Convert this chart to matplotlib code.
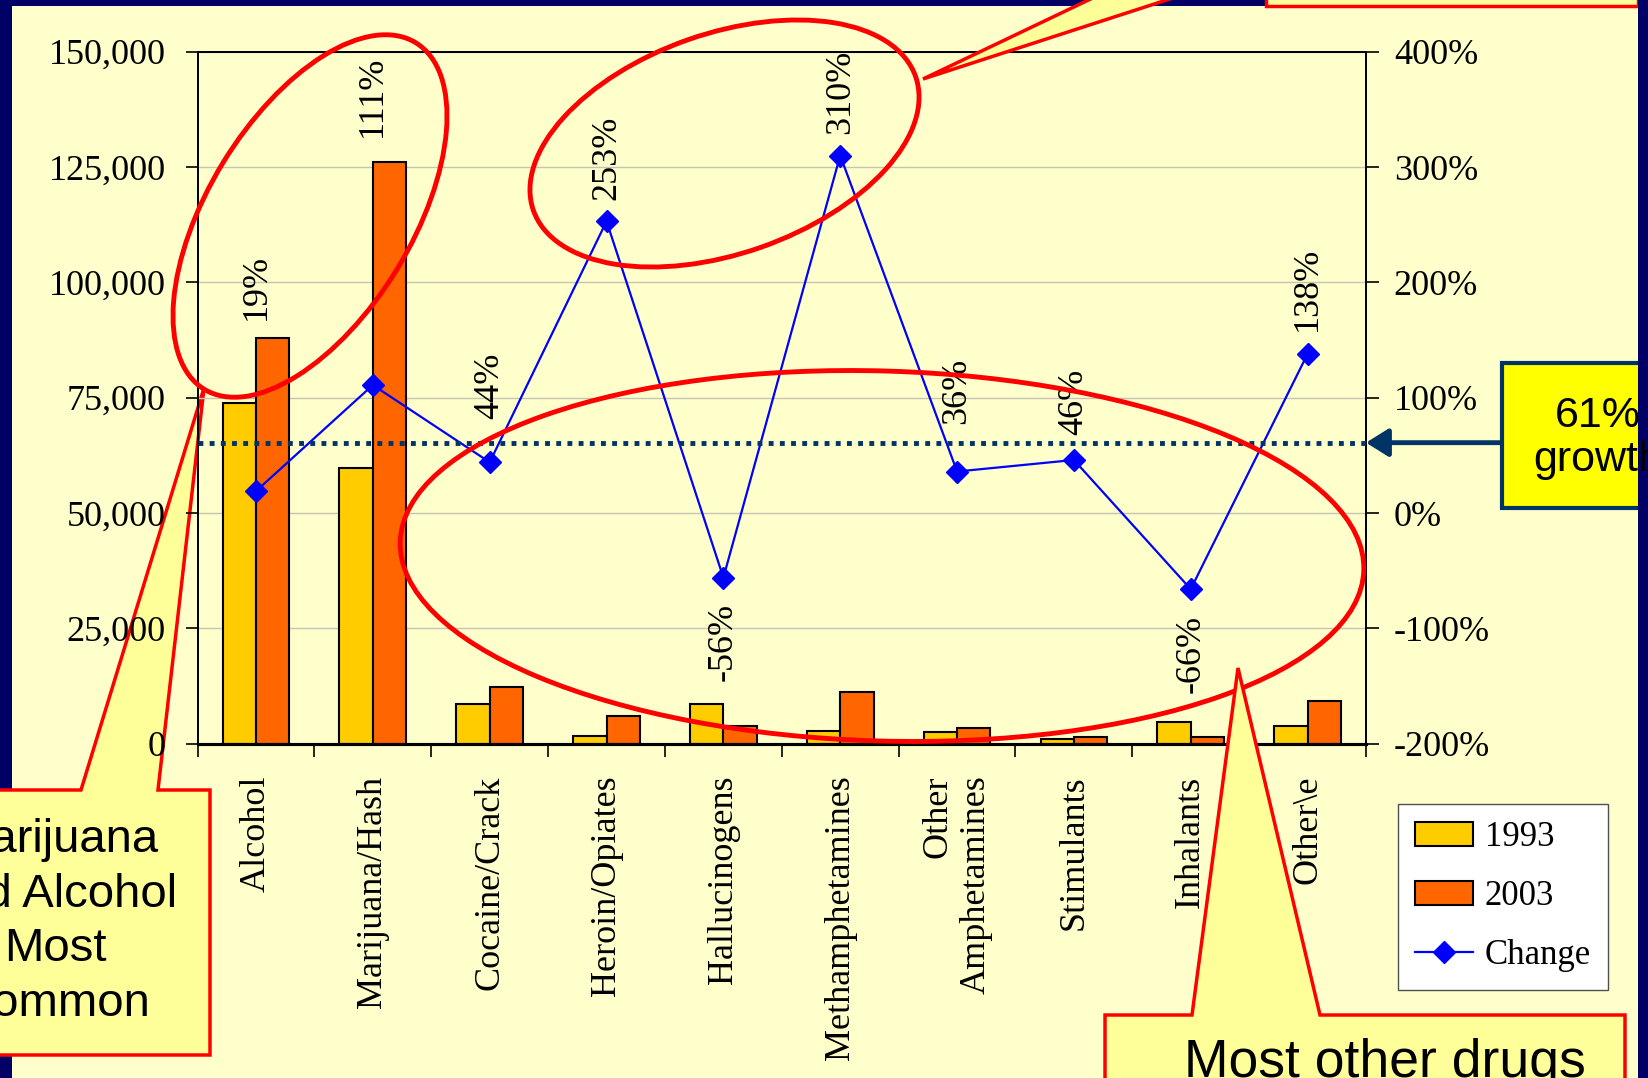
import matplotlib
matplotlib.use("Agg")
import matplotlib.pyplot as plt
import matplotlib.transforms as mtransforms
from matplotlib.patches import Ellipse, Polygon, Rectangle, Patch
from matplotlib.lines import Line2D
from matplotlib.ticker import FuncFormatter
import numpy as np

# ---- data -----------------------------------------------------------------
categories = ["Alcohol", "Marijuana/Hash", "Cocaine/Crack", "Heroin/Opiates",
              "Hallucinogens", "Methamphetamines", "Other\nAmphetamines",
              "Stimulants", "Inhalants", "Other\\e"]
admissions_1993 = [73800, 59800, 8500, 1700, 8600, 2750, 2600, 950, 4600, 3900]
admissions_2003 = [88000, 126000, 12300, 6000, 3800, 11300, 3500, 1400, 1550, 9300]
change_pct = [19, 111, 44, 253, -56, 310, 36, 46, -66, 138]
overall_growth_pct = 61

count_ticks = [0, 25000, 50000, 75000, 100000, 125000, 150000]
pct_ticks = [-200, -100, 0, 100, 200, 300, 400]

# vertical offset (points, up positive) of each change label from its marker
change_label_offsets = [147, 208, 55, 46, -46, 46, 58, 42, -47, 47]

# ---- style ----------------------------------------------------------------
W, H = 1648, 1078
SERIF = "Liberation Serif"
SANS = "Liberation Sans"
BG = "#FFFFCC"
NAVY = "#000066"
DARK_BLUE = "#003366"
C1993 = "#FFCC00"
C2003 = "#FF6600"
LINE_C = "#0000FF"
CALLOUT = "#FFFF99"
RED = "#FF0000"

plt.rcParams["font.family"] = [SERIF, "DejaVu Serif"]

fig = plt.figure(figsize=(W / 100, H / 100), dpi=100, facecolor=BG)

# background layer: slide frame and left callout (sits under the chart)
bg = fig.add_axes([0, 0, 1, 1], zorder=0)
bg.set_xlim(0, W)
bg.set_ylim(H, 0)
bg.axis("off")
bg.add_patch(Rectangle((0, 0), 12, H, color=NAVY, lw=0))
bg.add_patch(Rectangle((0, 0), W, 6, color=NAVY, lw=0))
bg.add_patch(Polygon([(-30, 790), (81, 790), (204, 388), (158, 790), (210, 790),
                      (210, 1055), (-30, 1055)], closed=True, fc=CALLOUT, ec=RED,
                     lw=2.5, joinstyle="miter"))
bg.text(55, 922, "Marijuana\nand Alcohol\nMost\nCommon", ha="center", va="center",
        fontsize=34, family=SANS, linespacing=1.32, multialignment="center")

# ---- main chart -------------------------------------------------------------
left, right, top, bottom = 197.6, 1366, 51.7, 743.7
ax = fig.add_axes([left / W, 1 - bottom / H, (right - left) / W, (bottom - top) / H],
                  zorder=1)
ax.set_facecolor("none")

x = np.arange(len(categories))
bw = 0.2857
ax.bar(x - bw / 2, admissions_1993, bw, color=C1993, edgecolor="black", lw=1.5, zorder=2)
ax.bar(x + bw / 2, admissions_2003, bw, color=C2003, edgecolor="black", lw=1.5, zorder=2)

ax.set_xlim(-0.5, len(categories) - 0.5)
ax.set_ylim(0, 150000)
ax.set_yticks(count_ticks)
ax.yaxis.set_major_formatter(FuncFormatter(lambda v, p: f"{int(v):,}"))
ax.yaxis.grid(True, color="#C4C4B4", lw=1)
ax.set_axisbelow(True)
ax.tick_params(axis="y", length=9, width=1.2, pad=14, labelsize=26, direction="out")

ax.set_xticks(x)
ax.set_xticklabels(categories, rotation=90, fontsize=26, va="top", ha="center",
                   multialignment="right")
ax.set_xticks(np.arange(-0.5, len(categories), 1), minor=True)
ax.tick_params(axis="x", which="major", length=0, pad=23)
ax.tick_params(axis="x", which="minor", length=9, width=1.2, direction="out")

ax2 = ax.twinx()
ax2.set_ylim(-200, 400)
ax2.set_yticks(pct_ticks)
ax2.yaxis.set_major_formatter(FuncFormatter(lambda v, p: f"{int(v)}%"))
ax2.tick_params(axis="y", length=9, width=1.2, pad=11, labelsize=26, direction="out")

for a in (ax, ax2):
    for s in a.spines.values():
        s.set_linewidth(1.3)
        s.set_color("black")
    a.spines["bottom"].set_linewidth(2.2)

ax2.plot(x, change_pct, color=LINE_C, lw=1.6, marker="D", ms=11, mec=LINE_C, zorder=3)
for xi, v, off in zip(x, change_pct, change_label_offsets):
    ax2.annotate(f"{v}%", xy=(xi, v), xytext=(0, off), textcoords="offset points",
                 rotation=90, ha="center", va="center", fontsize=26)

ax2.axhline(overall_growth_pct, color=DARK_BLUE, lw=3.5, linestyle=(0, (1.0, 1.3)),
            dash_capstyle="butt", zorder=4)

fig_x_data_y = mtransforms.blended_transform_factory(fig.transFigure, ax2.transData)
ax2.annotate("", xy=(len(categories) - 0.5, overall_growth_pct),
             xytext=(1502 / W, overall_growth_pct), textcoords=fig_x_data_y,
             annotation_clip=False,
             arrowprops=dict(arrowstyle="-|>,head_length=0.8,head_width=0.5",
                             mutation_scale=17, lw=3.5, color=DARK_BLUE,
                             shrinkA=0, shrinkB=0))

handles = [Patch(fc=C1993, ec="black", lw=1.5), Patch(fc=C2003, ec="black", lw=1.5),
           Line2D([], [], color=LINE_C, lw=1.6, marker="D", ms=11)]
leg = ax2.legend(handles, ["1993", "2003", "Change"], loc="upper left",
                 bbox_to_anchor=(1398 / W, 1 - 804 / H), bbox_transform=fig.transFigure,
                 prop={"family": SERIF, "size": 25}, frameon=True, fancybox=False,
                 edgecolor="#505050", facecolor="white", framealpha=1,
                 handlelength=1.65, handleheight=0.7, labelspacing=0.75,
                 borderpad=0.5, handletextpad=0.35, borderaxespad=0)
leg.get_frame().set_linewidth(1)

# ---- foreground annotations -----------------------------------------------
fg = fig.add_axes([0, 0, 1, 1], zorder=5)
fg.set_xlim(0, W)
fg.set_ylim(H, 0)
fg.axis("off")

for (cx, cy), ew, eh, ang in [((310, 216), 406, 204, -58.6),
                              ((724.5, 143.5), 405, 220, -19.3),
                              ((882, 556), 964, 370, 1.7)]:
    fg.add_patch(Ellipse((cx, cy), ew, eh, angle=ang, fill=False, ec=RED, lw=3.5))

fg.add_patch(Polygon([(923, 79), (1099, -5), (1182, -5)], closed=True,
                     fc=CALLOUT, ec=RED, lw=2.5))
fg.add_patch(Rectangle((1266, -60), 1638 - 1266, 66, fc=CALLOUT, ec=RED, lw=2.5))

fg.add_patch(Polygon([(1105, 1015), (1192, 1015), (1238, 668), (1320, 1015),
                      (1625, 1015), (1625, 1110), (1105, 1110)], closed=True,
                     fc=CALLOUT, ec=RED, lw=2.5, joinstyle="miter"))
fg.text(1385, 1077, "Most other drugs", ha="center", va="baseline",
        fontsize=38.5, family=SANS)

fg.add_patch(Rectangle((1502, 363), 250, 145, fc="#FFFF00", ec=DARK_BLUE, lw=3))
fg.text(1598, 438, "61%\ngrowth", ha="center", va="center", fontsize=31,
        family=SANS, linespacing=1.1)

fg.add_patch(Rectangle((1638, 0), W - 1638, H, color=NAVY, lw=0))

fig.savefig("out.png", dpi=100, facecolor=BG)
